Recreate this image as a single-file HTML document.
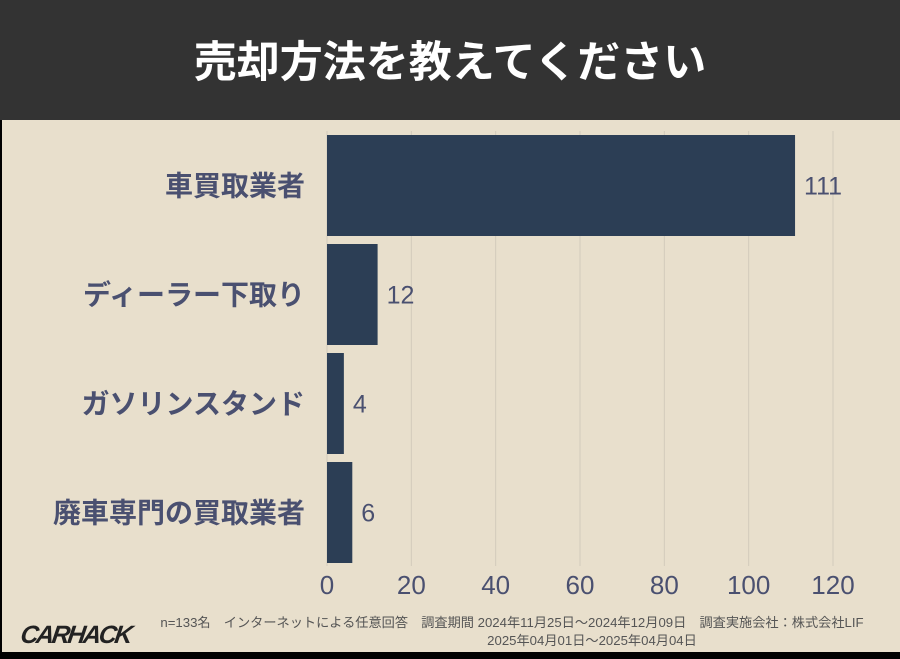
<!DOCTYPE html>
<html><head><meta charset="utf-8"><style>
body{margin:0;width:900px;height:654px;overflow:hidden;background:#000;font-family:"Liberation Sans","Noto Sans CJK JP",sans-serif}
#wrap{position:absolute;left:0;top:0;width:900px;height:654px}
</style></head><body>
<div id="wrap">
<svg id="svg" width="900" height="654">
<rect x="0" y="0" width="900" height="654" fill="#000"/>
<rect x="2" y="119" width="898" height="533" fill="#e8dfcc"/>
<rect x="0" y="0" width="900" height="120" fill="#333333"/>
<text x="450" y="77" text-anchor="middle" fill="#fff" font-size="43" font-weight="bold" font-family="'Noto Sans CJK JP',sans-serif">売却方法を教えてください</text>
<g id="grid"></g><g id="bars"></g>
<text x="20" y="643" fill="#222" font-size="25" font-weight="bold" font-style="italic" font-family="'Liberation Sans',sans-serif" transform="skewX(-8) translate(90,0)" textLength="112">CARHACK</text>
<text x="512" y="627" text-anchor="middle" fill="#555" font-size="13.2" font-family="'Liberation Sans','Noto Sans CJK JP',sans-serif">n=133名　インターネットによる任意回答　調査期間 2024年11月25日〜2024年12月09日　調査実施会社：株式会社LIF</text>
<text x="592" y="645" text-anchor="middle" fill="#555" font-size="13.2" font-family="'Liberation Sans','Noto Sans CJK JP',sans-serif">2025年04月01日〜2025年04月04日</text>
</svg></div>
<script>
const categories=["車買取業者","ディーラー下取り","ガソリンスタンド","廃車専門の買取業者"];
const values=[111,12,4,6];
const ticks=[0,20,40,60,80,100,120];
const NS="http://www.w3.org/2000/svg";
const x0=327,x1=833,xMax=120,top0=131,band=109,barH=101;
const xs=v=>x0+(x1-x0)*v/xMax;
const g=document.getElementById('grid'),b=document.getElementById('bars');
function el(t,a,p){const e=document.createElementNS(NS,t);for(const k in a)e.setAttribute(k,a[k]);p.appendChild(e);return e;}
ticks.forEach(t=>{
 const l=el('line',{x1:xs(t),x2:xs(t),y1:131,y2:566,stroke:'#d2cbbb','stroke-width':1},g);
 
 
 const tx=el('text',{x:xs(t),y:594,'text-anchor':'middle',fill:'#4a5070','font-size':26},g);
 tx.textContent=t;
 
 
});
categories.forEach((c,i)=>{
 const y=top0+i*band+4;
 const r=el('rect',{x:x0,y:y,width:xs(values[i])-x0,height:barH,fill:'#2c3e55'},b);
 
 
 const lb=el('text',{x:305,y:y+barH/2+10,'text-anchor':'end',fill:'#4a5070','font-size':28,'font-weight':'bold','font-family':"'Noto Sans CJK JP',sans-serif"},b);
 lb.textContent=c;
 
 
 const vl=el('text',{x:xs(values[i])+9,y:y+barH/2+9,fill:'#4a5070','font-size':25},b);
 vl.textContent=values[i];
 
 
});
</script>
</body></html>
